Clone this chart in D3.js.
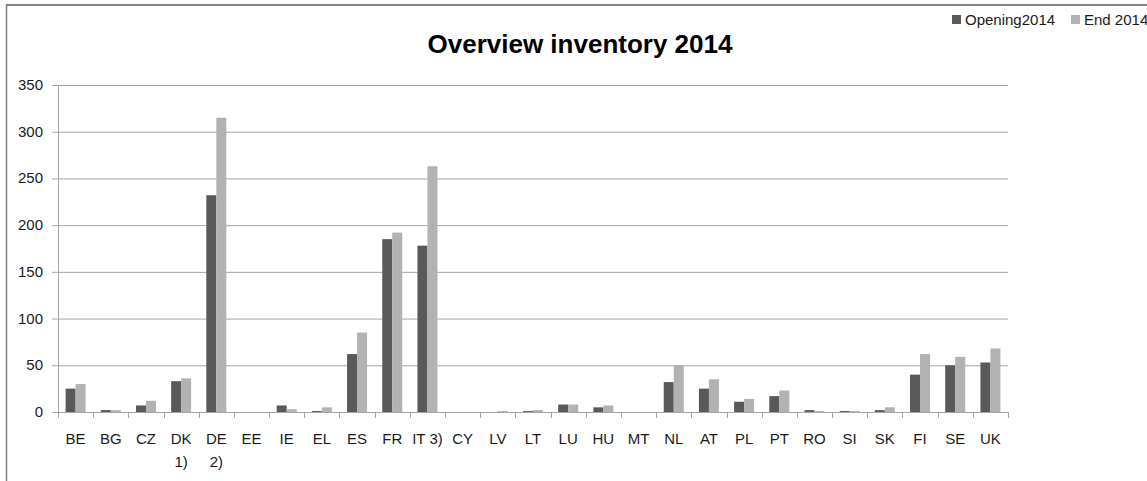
<!DOCTYPE html>
<html>
<head>
<meta charset="utf-8">
<script src="https://cdn.jsdelivr.net/npm/d3@7"></script>
<style>
  body { margin: 0; background: #fff; }
  text { font-family: 'Liberation Sans', Arial, sans-serif; fill: #1a1a1a; }
</style>
</head>
<body>
<div class="svg-container"></div>
<script>
var countries = ['BE','BG','CZ','DK 1)','DE 2)','EE','IE','EL','ES','FR','IT 3)','CY','LV','LT','LU','HU','MT','NL','AT','PL','PT','RO','SI','SK','FI','SE','UK'];
var opening2014 = [25,2,7,33,232,0,7,1,62,185,178,0,0,1,8,5,0,32,25,11,17,2,1,2,40,50,53];
var end2014 = [30,2,12,36,315,0,3,5,85,192,263,0,1,2,8,7,0,50,35,14,23,1,1,5,62,59,68];
var yTicks = [0,50,100,150,200,250,300,350];
var seriesNames = ['Opening2014','End 2014'];
var seriesColors = ['#595959','#b2b2b2'];

var width = 1147, height = 481;
var margin = {left: 58, right: 139, top: 85, bottom: 69};

var svg = d3.select('.svg-container').append('svg')
  .attr('width', width)
  .attr('height', height);

// chart frame (cropped Excel area)
svg.append('line').attr('x1', 6).attr('x2', width).attr('y1', 5).attr('y2', 5)
  .style('stroke', '#808080').style('stroke-width', 2);
svg.append('line').attr('x1', 6.5).attr('x2', 6.5).attr('y1', 4).attr('y2', height)
  .style('stroke', '#808080').style('stroke-width', 1.5);

var x = d3.scaleBand()
  .domain(countries)
  .range([margin.left, width - margin.right]);

var y = d3.scaleLinear()
  .domain([0, 350])
  .range([height - margin.bottom, margin.top]);

var barW = 10;

// gridlines
svg.append('g').selectAll('line')
  .data(yTicks.slice(1))
  .enter().append('line')
  .attr('x1', margin.left - 6).attr('x2', width - margin.right)
  .attr('y1', function(d) { return y(d) + 0.5; })
  .attr('y2', function(d) { return y(d) + 0.5; })
  .style('stroke', '#a6a6a6');

// y labels
svg.append('g').selectAll('text')
  .data(yTicks)
  .enter().append('text')
  .attr('x', 43)
  .attr('y', function(d) { return y(d) + 5; })
  .attr('text-anchor', 'end')
  .style('font-size', '15px')
  .text(function(d) { return d; });

// y axis line
svg.append('line')
  .attr('x1', margin.left + 0.5).attr('x2', margin.left + 0.5)
  .attr('y1', y(350)).attr('y2', y(0))
  .style('stroke', '#a6a6a6');

// bars
var groups = svg.append('g').selectAll('g')
  .data(countries)
  .enter().append('g')
  .attr('transform', function(d) { return 'translate(' + (x(d) + x.bandwidth() / 2) + ',0)'; });

groups.append('rect')
  .attr('x', -barW)
  .attr('width', barW)
  .attr('y', function(d, i) { return y(opening2014[i]); })
  .attr('height', function(d, i) { return y(0) - y(opening2014[i]); })
  .style('fill', seriesColors[0]);

groups.append('rect')
  .attr('x', 0)
  .attr('width', barW)
  .attr('y', function(d, i) { return y(end2014[i]); })
  .attr('height', function(d, i) { return y(0) - y(end2014[i]); })
  .style('fill', seriesColors[1]);

// x axis
svg.append('line')
  .attr('x1', margin.left - 6).attr('x2', width - margin.right)
  .attr('y1', y(0) + 0.5).attr('y2', y(0) + 0.5)
  .style('stroke', '#a6a6a6');

var bounds = countries.map(function(d) { return x(d); }).concat([width - margin.right]);
svg.append('g').selectAll('line')
  .data(bounds)
  .enter().append('line')
  .attr('x1', function(d) { return Math.round(d) + 0.5; })
  .attr('x2', function(d) { return Math.round(d) + 0.5; })
  .attr('y1', y(0)).attr('y2', y(0) + 6)
  .style('stroke', '#a6a6a6');

var xl = svg.append('g').selectAll('text')
  .data(countries)
  .enter().append('text')
  .attr('text-anchor', 'middle')
  .style('font-size', '15px')
  .attr('transform', function(d) { return 'translate(' + (x(d) + x.bandwidth() / 2) + ',' + 444 + ')'; });

xl.each(function(d) {
  var t = d3.select(this);
  var parts = d.split(' ');
  // Excel wraps "DK 1)" and "DE 2)" but keeps "IT 3)" on one line
  if (d === 'IT 3)') parts = [d];
  parts.forEach(function(p, k) {
    t.append('tspan').attr('x', 0).attr('dy', k === 0 ? 0 : 23).text(p);
  });
});

// title
svg.append('text')
  .attr('x', 580).attr('y', 53)
  .attr('text-anchor', 'middle')
  .style('font-size', '26px')
  .style('font-weight', 'bold')
  .style('fill', '#000')
  .text('Overview inventory 2014');

// legend
var legendX = [952, 1071];
var lg = svg.append('g').selectAll('g')
  .data(seriesNames)
  .enter().append('g')
  .attr('transform', function(d, i) { return 'translate(' + legendX[i] + ',20)'; });
lg.append('rect').attr('x', 0).attr('y', -5).attr('width', 9).attr('height', 9)
  .style('fill', function(d, i) { return seriesColors[i]; });
lg.append('text').attr('x', 13).attr('y', 5)
  .style('font-size', '15px')
  .text(function(d) { return d; });
</script>
</body>
</html>
